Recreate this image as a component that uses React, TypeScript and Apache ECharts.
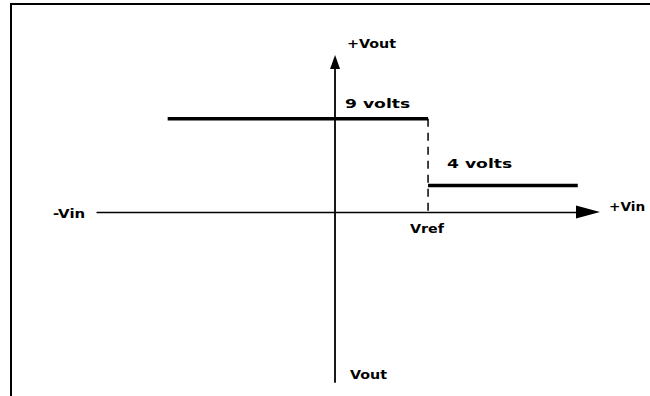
import React, { useEffect, useRef } from "react";
import * as echarts from "echarts";

// Axis extents (Vin in units of Vref, Vout in volts as drawn)
const vinRange = [-2.56, 2.72];
const voutRange = [-16.45, 14.5];
const vref = 1;
// Output levels as drawn
const highSegment = [[-1.8, 9], [1, 9]];
const lowSegment = [[1, 2.55], [2.61, 2.55]];
const vrefDash = [[1, 9], [1, 0]];
// Text labels
const labelTexts = ["+Vout", "9 volts", "4 volts", "-Vin", "+Vin", "Vref", "Vout"];

export default function App() {
  const ref = useRef<HTMLDivElement>(null);
  useEffect(() => {
    document.body.style.margin = "0";
    const chart = echarts.init(ref.current!, null, { renderer: "svg" });
    const font = 'bold 13px "DejaVu Sans", sans-serif';
    const pos: Record<string, [number, number, number]> = {
      "+Vout": [347, 43, 1.1],
      "9 volts": [345, 104, 1.32],
      "4 volts": [447, 164, 1.32],
      "-Vin": [53, 213, 1.15],
      "+Vin": [609, 207, 1.05],
      "Vref": [410, 228, 1.1],
      "Vout": [350, 374, 1.1],
    };
    const axisCommon = {
      type: "value" as const,
      axisTick: { show: false },
      axisLabel: { show: false },
      splitLine: { show: false },
    };
    chart.setOption({
      animation: false,
      backgroundColor: "#ffffff",
      grid: { left: 97, right: 62, top: 62, bottom: 14, outerBoundsMode: "none" },
      xAxis: {
        ...axisCommon,
        min: vinRange[0],
        max: vinRange[1],
        axisLine: {
          show: true,
          onZero: true,
          symbol: ["none", "triangle"],
          symbolSize: [13, 24],
          lineStyle: { color: "#000", width: 1.3 },
        },
      },
      yAxis: {
        ...axisCommon,
        min: voutRange[0],
        max: voutRange[1],
        axisLine: {
          show: true,
          onZero: true,
          symbol: ["none", "triangle"],
          symbolSize: [10, 14],
          lineStyle: { color: "#000", width: 1.8 },
        },
      },
      series: [
        {
          type: "line",
          data: highSegment,
          symbol: "none",
          lineStyle: { color: "#000", width: 3.5 },
        },
        {
          type: "line",
          data: lowSegment,
          symbol: "none",
          lineStyle: { color: "#000", width: 3.5 },
        },
        {
          type: "line",
          data: vrefDash.map((p) => [vref, p[1]]),
          symbol: "none",
          lineStyle: { color: "#000", width: 1.5, type: [8, 6] },
        },
      ],
      graphic: [
        {
          type: "polyline",
          shape: { points: [[11, 396], [11, 4], [650, 4]] },
          style: { stroke: "#000", lineWidth: 2, fill: null },
        },
        ...labelTexts.map((t) => ({
          type: "text",
          x: pos[t][0],
          y: pos[t][1],
          scaleX: pos[t][2],
          style: { text: t, font, fill: "#000", align: "left", verticalAlign: "middle" },
        })),
      ],
    });
    return () => chart.dispose();
  }, []);
  return <div ref={ref} style={{ width: 650, height: 396 }} />;
}
